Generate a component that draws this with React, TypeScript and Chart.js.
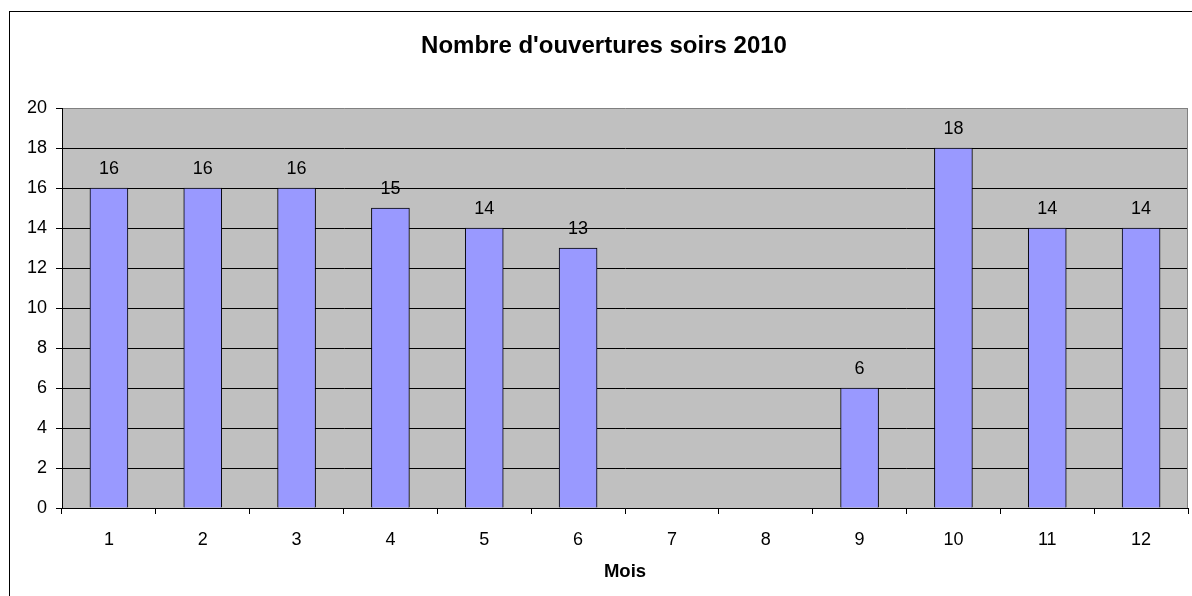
import React, { useEffect, useRef } from "react";
import { Chart, registerables } from "chart.js";

Chart.register(...registerables);

const TITLE = "Nombre d'ouvertures soirs 2010";
const X_TITLE = "Mois";
const MONTHS = ["1", "2", "3", "4", "5", "6", "7", "8", "9", "10", "11", "12"];
const OPENINGS: (number | null)[] = [16, 16, 16, 15, 14, 13, null, null, 6, 18, 14, 14];

const FONT = "'Liberation Sans', Arial, sans-serif";

export default function App() {
  const ref = useRef<HTMLCanvasElement | null>(null);

  useEffect(() => {
    if (!ref.current) return;
    const deco = {
      id: "deco",
      beforeDraw(chart: any) {
        const { ctx, chartArea: a } = chart;
        ctx.save();
        ctx.fillStyle = "#fff";
        ctx.fillRect(0, 0, chart.width, chart.height);
        ctx.fillStyle = "#C0C0C0";
        ctx.fillRect(a.left, a.top, a.right - a.left, a.bottom - a.top);
        ctx.restore();
      },
      afterDraw(chart: any) {
        const { ctx, chartArea: a } = chart;
        ctx.save();
        // plot right border
        ctx.strokeStyle = "#808080";
        ctx.lineWidth = 1;
        ctx.beginPath();
        ctx.moveTo(Math.round(a.right) - 0.5, a.top);
        ctx.lineTo(Math.round(a.right) - 0.5, a.bottom);
        ctx.stroke();
        // outer border
        ctx.strokeStyle = "#000";
        ctx.strokeRect(9.5, 11.5, 1400, 800);
        // title
        ctx.fillStyle = "#000";
        ctx.textAlign = "center";
        ctx.textBaseline = "middle";
        ctx.font = `bold 24px ${FONT}`;
        ctx.fillText(TITLE, 604, 46);
        ctx.font = `bold 18.5px ${FONT}`;
        ctx.fillText(X_TITLE, (a.left + a.right) / 2, 572);
        // data labels
        ctx.font = `18px ${FONT}`;
        const meta = chart.getDatasetMeta(0);
        meta.data.forEach((el: any, i: number) => {
          const v = OPENINGS[i];
          if (v === null || v === undefined) return;
          ctx.fillText(String(v), el.x, el.y - 19);
        });
        ctx.restore();
      },
    };

    const chart = new Chart(ref.current, {
      type: "bar",
      data: {
        labels: MONTHS,
        datasets: [
          {
            data: OPENINGS,
            backgroundColor: "#9999FF",
            borderColor: "#000",
            borderWidth: 1,
            barThickness: 38,
          },
        ],
      },
      options: {
        responsive: false,
        animation: false,
        layout: { padding: { left: 0, top: 108, right: 4, bottom: 0 } },
        plugins: {
          legend: { display: false },
          title: { display: false },
          tooltip: { enabled: false },
        },
        scales: {
          x: {
            type: "category",
            offset: true,
            grid: {
              offset: true,
              drawOnChartArea: false,
              drawTicks: true,
              tickLength: 6,
              tickColor: "#000",
              color: "#000",
            },
            border: { display: true, color: "#000", width: 1 },
            ticks: { color: "#000", font: { family: FONT, size: 18 }, padding: 15, maxRotation: 0 },
            afterFit(scale: any) {
              scale.height = 88;
            },
          },
          y: {
            min: 0,
            max: 20,
            grid: {
              color: (c: any) => (c.tick && c.tick.value === 20 ? "#808080" : "#000"),
              tickColor: "#000",
              tickLength: 6,
              drawOnChartArea: true,
            },
            border: { display: true, color: "#000", width: 1 },
            ticks: { stepSize: 2, color: "#000", font: { family: FONT, size: 18 }, padding: 9 },
            afterFit(scale: any) {
              scale.width = 62;
            },
          },
        },
      },
      plugins: [deco],
    } as any);
    return () => chart.destroy();
  }, []);

  return (
    <div style={{ position: "absolute", left: 0, top: 0, width: 1192, height: 596 }}>
      <canvas ref={ref} width={1192} height={596} />
    </div>
  );
}
